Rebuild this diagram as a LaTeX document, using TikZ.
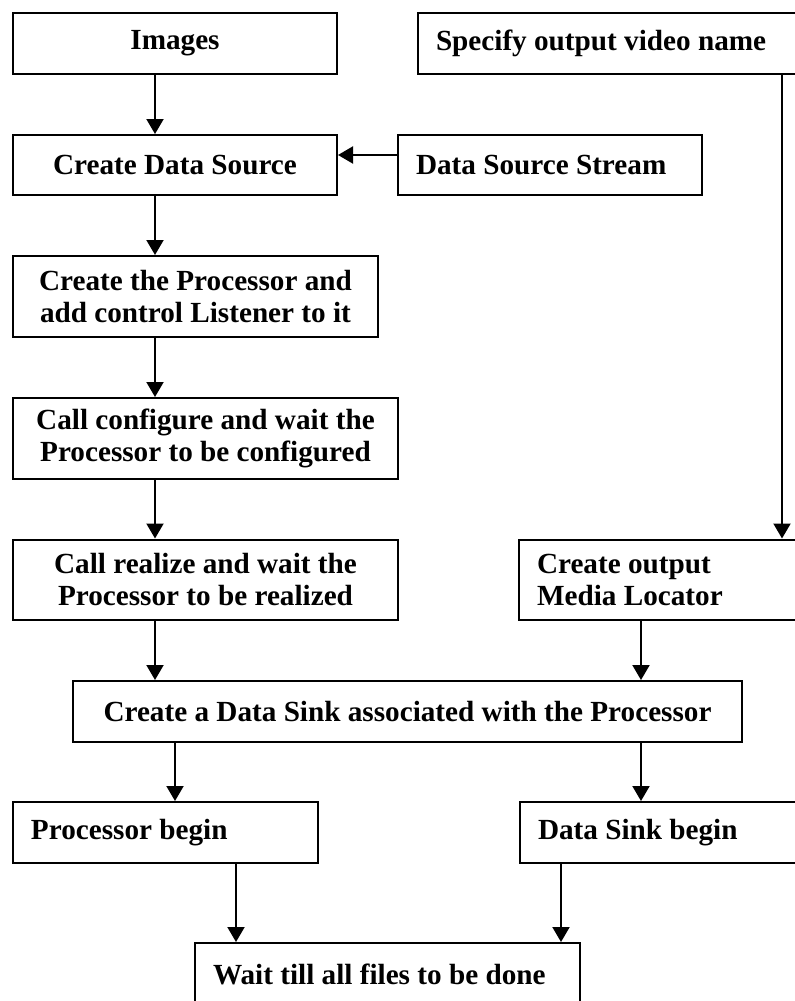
\documentclass[tikz,border=0pt]{standalone}
\usepackage{fontspec}
\setmainfont{Liberation Serif}
\usetikzlibrary{arrows.meta}

\begin{document}
\begin{tikzpicture}[x=0.5pt,y=-0.5pt]
    \tikzset{
      BoxStyle/.style = { rectangle, draw, line width = 1pt, inner sep = 0pt,
                          align = center,
                          font = \bfseries\fontsize{14.6}{16}\selectfont },
      LeftBox/.style = { BoxStyle, inner xsep = 9pt, align = flush left },
      EdgeStyle/.style = { line width = 1pt,
                           -{Triangle[length=7.5pt,width=8.5pt]} } }
      \useasboundingbox (0,0) rectangle (795,1001);

      % left column
      \node[BoxStyle, minimum width=162pt, minimum height=30.5pt] (img) at (175,43.5) {Images};
      \node[BoxStyle, minimum width=162pt, minimum height=30pt] (cds) at (175,165) {Create Data Source};
      \node[BoxStyle, minimum width=182.5pt, minimum height=40.5pt] (proc) at (195.5,296.5)
           {Create the Processor and\\add control Listener to it};
      \node[BoxStyle, minimum width=192.5pt, minimum height=40.5pt] (conf) at (205.5,438.5)
           {Call configure and wait the\\Processor to be configured};
      \node[BoxStyle, minimum width=192.5pt, minimum height=40pt] (real) at (205.5,579.5)
           {Call realize and wait the\\Processor to be realized};

      % right column
      \node[LeftBox, text width=175.5pt, minimum height=30.5pt] (name) at (611.5,43.5) {Specify output video name};
      \node[LeftBox, text width=134pt, minimum height=30pt] (dss) at (550,165) {Data Source Stream};
      \node[LeftBox, text width=125pt, minimum height=40pt] (loc) at (662,579.5)
           {Create output\\Media Locator};

      % bottom part
      \node[BoxStyle, minimum width=334.5pt, minimum height=30.5pt] (sink) at (407.5,711.5)
           {Create a Data Sink associated with the Processor};
      \node[LeftBox, text width=134.5pt, minimum height=30.5pt] (pbeg) at (165.5,832.5) {Processor begin};
      \node[LeftBox, text width=124.5pt, minimum height=30.5pt] (sbeg) at (662.5,832.5) {Data Sink begin};
      \node[LeftBox, text width=174.5pt, minimum height=31pt] (wait) at (387.5,974) {Wait till all files to be done};

      \coordinate (c1) at (155,0);
      \coordinate (c2) at (175,0);
      \coordinate (c3) at (641,0);
      \coordinate (c4) at (782,0);
      \coordinate (c5) at (236,0);
      \coordinate (c6) at (561,0);
      \coordinate (r1) at (0,155);

      \draw[EdgeStyle] (img.south -| c1) -- (cds.north -| c1);
      \draw[EdgeStyle] (dss.west |- r1) -- (cds.east |- r1);
      \draw[EdgeStyle] (cds.south -| c1) -- (proc.north -| c1);
      \draw[EdgeStyle] (proc.south -| c1) -- (conf.north -| c1);
      \draw[EdgeStyle] (conf.south -| c1) -- (real.north -| c1);
      \draw[EdgeStyle] (real.south -| c1) -- (sink.north -| c1);
      \draw[EdgeStyle] (name.south -| c4) -- (loc.north -| c4);
      \draw[EdgeStyle] (loc.south -| c3) -- (sink.north -| c3);
      \draw[EdgeStyle] (sink.south -| c2) -- (pbeg.north -| c2);
      \draw[EdgeStyle] (sink.south -| c3) -- (sbeg.north -| c3);
      \draw[EdgeStyle] (pbeg.south -| c5) -- (wait.north -| c5);
      \draw[EdgeStyle] (sbeg.south -| c6) -- (wait.north -| c6);
    \end{tikzpicture}
\end{document}
